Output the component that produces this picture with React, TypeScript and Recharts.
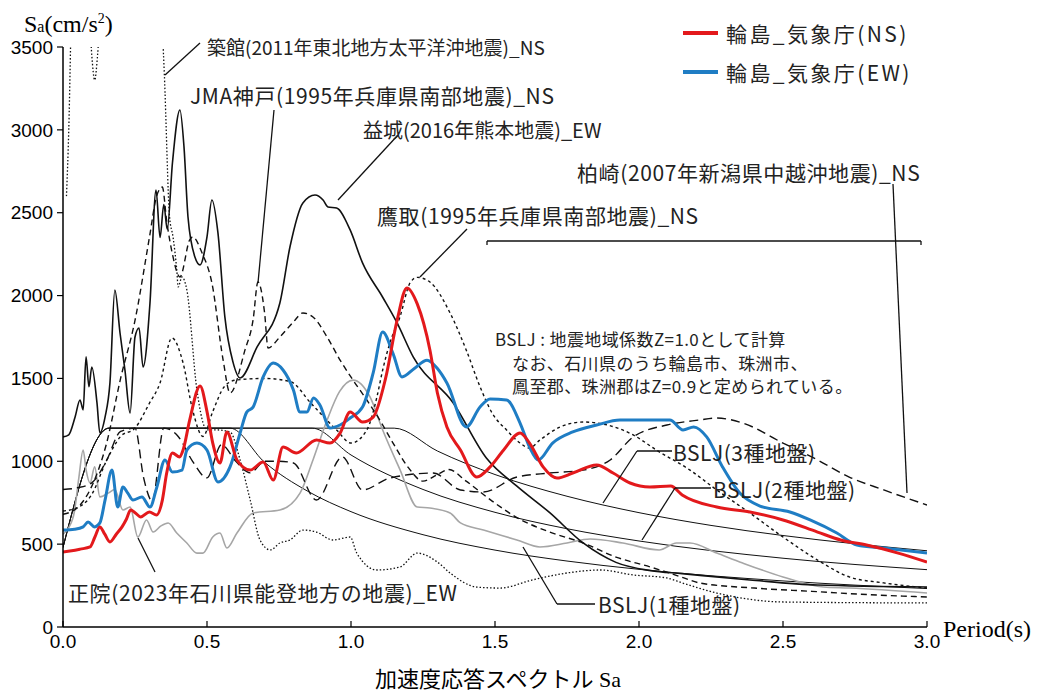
import { Line, LineChart, XAxis, YAxis } from "recharts";

type Pt = { p: number; v: number };
const toPts = (rows: number[][]): Pt[] => rows.map(([p, v]) => ({ p, v }));

// period (s) / Sa (cm/s2) pairs
const wajimaNS = [
  [0, 453], [0.03, 460], [0.06, 470], [0.094, 483], [0.11, 540], [0.128, 604], [0.145, 560],
  [0.163, 513], [0.185, 560], [0.205, 604], [0.22, 650], [0.235, 706], [0.25, 690], [0.27, 664],
  [0.3, 694], [0.325, 676], [0.345, 766], [0.36, 929], [0.38, 1050], [0.405, 1026], [0.417, 1068],
  [0.44, 1250], [0.476, 1455], [0.5, 1300], [0.52, 1110], [0.545, 990], [0.569, 1177], [0.604, 1008],
  [0.65, 947], [0.695, 996], [0.73, 887], [0.764, 1086], [0.81, 1050], [0.88, 1128], [0.927, 1110],
  [0.962, 1170], [0.997, 1297], [1.04, 1237], [1.077, 1267], [1.12, 1500], [1.16, 1850], [1.194, 2046],
  [1.23, 1950], [1.274, 1672], [1.3, 1412], [1.333, 1207], [1.38, 1068], [1.437, 905], [1.483, 966],
  [1.53, 1068], [1.587, 1171], [1.62, 1110], [1.667, 966], [1.715, 899], [1.77, 929], [1.853, 978],
  [1.91, 929], [1.969, 869], [2.038, 845], [2.11, 851], [2.15, 797], [2.27, 724], [2.385, 694],
  [2.5, 646], [2.62, 573], [2.7, 525], [2.79, 495], [2.9, 446], [3.0, 392],
];

const wajimaEW = [
  [0, 585], [0.04, 590], [0.07, 604], [0.087, 634], [0.11, 604], [0.128, 628], [0.146, 766],
  [0.17, 947], [0.19, 724], [0.208, 845], [0.225, 808], [0.243, 766], [0.274, 785], [0.302, 724],
  [0.326, 845], [0.354, 1008], [0.38, 935], [0.413, 947], [0.43, 1068], [0.465, 1110], [0.5, 1068],
  [0.538, 875], [0.58, 966], [0.615, 1171], [0.638, 1297], [0.66, 1327], [0.695, 1509], [0.73, 1593],
  [0.764, 1551], [0.8, 1430], [0.823, 1297], [0.847, 1297], [0.87, 1382], [0.892, 1340], [0.927, 1201],
  [0.962, 1219], [0.997, 1261], [1.04, 1327], [1.077, 1533], [1.11, 1780], [1.146, 1650], [1.177, 1509],
  [1.22, 1560], [1.264, 1610], [1.3, 1560], [1.333, 1473], [1.4, 1207], [1.448, 1328], [1.483, 1376],
  [1.54, 1370], [1.587, 1231], [1.62, 1086], [1.65, 1008], [1.7, 1110], [1.77, 1177], [1.853, 1219],
  [1.934, 1249], [2.03, 1249], [2.107, 1249], [2.153, 1189], [2.19, 1207], [2.235, 1147], [2.29, 966],
  [2.35, 808], [2.42, 730], [2.524, 694], [2.594, 646], [2.687, 567], [2.757, 495], [2.85, 477],
  [3.0, 446],
];

const mashikiEW = [
  [0, 1147], [0.02, 1160], [0.042, 1267], [0.059, 1370], [0.07, 1310], [0.08, 1630], [0.09, 1450],
  [0.1, 1569], [0.118, 1352], [0.128, 1171], [0.146, 1267], [0.163, 1473], [0.18, 2034], [0.198, 1774],
  [0.215, 1551], [0.233, 1291], [0.25, 1750], [0.264, 1804], [0.278, 1569], [0.302, 1955], [0.323, 2637],
  [0.337, 2350], [0.35, 2550], [0.362, 2400], [0.38, 2800], [0.406, 3120], [0.42, 2900], [0.434, 2474],
  [0.458, 2233], [0.476, 2185], [0.5, 2354], [0.517, 2577], [0.538, 2378], [0.562, 1871], [0.59, 1600],
  [0.615, 1503], [0.674, 1690], [0.753, 1955], [0.788, 2293], [0.833, 2559], [0.875, 2607], [0.903, 2577],
  [0.92, 2535], [0.95, 2528], [0.997, 2396], [1.04, 2197], [1.11, 1990], [1.16, 1835], [1.216, 1630],
  [1.355, 1352], [1.47, 1020], [1.576, 850], [1.69, 690], [1.806, 507], [1.92, 390], [2.04, 340],
  [2.15, 322], [2.385, 284], [2.62, 253], [3.0, 241],
];

const takatoriNS = [
  [0, 700], [0.05, 720], [0.1, 800], [0.15, 1000], [0.2, 1150], [0.25, 1200], [0.3, 1350],
  [0.337, 1473], [0.378, 1744], [0.417, 1593], [0.45, 1310], [0.486, 1150], [0.52, 1300], [0.56, 1450],
  [0.6, 1490], [0.7, 1500], [0.79, 1480], [0.86, 1352], [0.95, 1189], [1.0, 1110], [1.055, 1189],
  [1.09, 1388], [1.11, 1551], [1.135, 1714], [1.17, 1871], [1.205, 2076], [1.23, 2110], [1.274, 2082],
  [1.344, 1895], [1.4, 1672], [1.448, 1450], [1.49, 1291], [1.54, 1189], [1.587, 1110], [1.62, 1080],
  [1.656, 1128], [1.726, 1207], [1.806, 1237], [1.89, 1219], [1.98, 1159], [2.06, 1068], [2.177, 947],
  [2.27, 827], [2.385, 688], [2.5, 543], [2.62, 404], [2.73, 302], [2.85, 266], [3.0, 235],
];

const jmaKobeNS = [
  [0, 680], [0.05, 720], [0.1, 850], [0.15, 1100], [0.2, 1500], [0.25, 1850], [0.3, 2350],
  [0.325, 2600], [0.345, 2655], [0.36, 2450], [0.38, 2250], [0.406, 2112], [0.44, 2336], [0.45, 2354],
  [0.483, 2257], [0.517, 2076], [0.556, 1611], [0.58, 1412], [0.632, 1672], [0.66, 1853], [0.677, 2082],
  [0.7, 1895], [0.712, 1684], [0.753, 1750], [0.8, 1841], [0.833, 1895], [0.868, 1871], [0.917, 1750],
  [0.962, 1611], [1.007, 1490], [1.055, 1370], [1.1, 1249], [1.146, 1110], [1.2, 960], [1.25, 880],
  [1.3, 920], [1.34, 950], [1.4, 880], [1.49, 760], [1.576, 660], [1.69, 573], [1.806, 507],
  [1.92, 422], [2.04, 362], [2.15, 300], [2.21, 266], [2.4, 235], [2.6, 215], [2.8, 195], [3.0, 181],
];

const kashiwazakiNS = [
  [0, 830], [0.05, 840], [0.1, 870], [0.15, 1000], [0.2, 1180], [0.25, 1200], [0.28, 900],
  [0.31, 760], [0.35, 1200], [0.4, 1150], [0.45, 1000], [0.5, 900], [0.55, 1100], [0.6, 1000],
  [0.65, 930], [0.7, 1000], [0.75, 1000], [0.8, 990], [0.88, 766], [0.97, 1026], [1.04, 827],
  [1.135, 899], [1.285, 929], [1.38, 827], [1.46, 815], [1.576, 905], [1.69, 929], [1.806, 947],
  [1.9, 1008], [1.98, 1147], [2.097, 1219], [2.21, 1249], [2.27, 1261], [2.36, 1231], [2.5, 1110],
  [2.62, 1008], [2.73, 905], [2.85, 827], [3.0, 736],
];

const tsukidateNS = [
  [0.012, 2600], [0.02, 3000], [0.03, 3800], [0.05, 4600], [0.08, 4200], [0.1, 3450], [0.11, 3300],
  [0.12, 3450], [0.15, 4500], [0.25, 5000], [0.33, 4000], [0.345, 3600], [0.352, 3330], [0.37, 2474],
  [0.382, 2354], [0.395, 2155], [0.4, 2052], [0.413, 2112], [0.43, 2034], [0.465, 1430], [0.5, 1189],
  [0.535, 1189], [0.58, 1177], [0.615, 1008], [0.65, 766], [0.684, 525], [0.72, 465], [0.753, 507],
  [0.788, 525], [0.833, 585], [0.88, 573], [0.937, 525], [0.997, 543], [1.02, 446], [1.09, 344],
  [1.17, 362], [1.23, 446], [1.3, 392], [1.344, 326], [1.437, 241], [1.517, 235], [1.63, 284],
  [1.75, 326], [1.865, 344], [1.98, 314], [2.097, 296], [2.15, 266], [2.27, 205], [2.5, 151],
  [3.0, 145],
];

const shoinEW = [
  [0, 560], [0.02, 600], [0.04, 700], [0.055, 900], [0.07, 1068], [0.08, 950], [0.094, 869],
  [0.11, 966], [0.128, 785], [0.157, 808], [0.18, 830], [0.208, 706], [0.233, 724], [0.26, 543],
  [0.29, 646], [0.313, 573], [0.34, 610], [0.365, 628], [0.395, 567], [0.43, 507], [0.465, 446],
  [0.486, 446], [0.52, 543], [0.545, 567], [0.569, 477], [0.604, 567], [0.66, 688], [0.753, 706],
  [0.823, 808], [0.868, 1008], [0.917, 1249], [0.96, 1420], [1.007, 1490], [1.066, 1388], [1.11, 1189],
  [1.17, 950], [1.23, 724], [1.274, 718], [1.344, 688], [1.38, 628], [1.46, 585], [1.576, 525],
  [1.656, 483], [1.75, 507], [1.83, 531], [1.944, 507], [2.07, 465], [2.13, 507], [2.177, 507],
  [2.27, 446], [2.36, 386], [2.5, 302], [2.64, 241], [2.73, 235], [3.0, 205],
];

const bslj1 = [
  [0, 480], [0.16, 1200], [0.58, 1200], [0.7, 994], [0.85, 819], [1.0, 696], [1.25, 557],
  [1.5, 464], [1.75, 398], [2.0, 348], [2.5, 278], [3.0, 232],
];
const bslj2 = [
  [0, 480], [0.16, 1200], [0.865, 1200], [1.0, 1038], [1.25, 830], [1.5, 692], [1.75, 593],
  [2.0, 519], [2.5, 415], [3.0, 346],
];
const bslj3 = [
  [0, 480], [0.16, 1200], [1.15, 1200], [1.3, 1062], [1.5, 920], [1.75, 789], [2.0, 690],
  [2.25, 613], [2.5, 552], [2.75, 502], [3.0, 460],
];

const xTicks = [0, 0.5, 1.0, 1.5, 2.0, 2.5, 3.0];
const yTicks = [0, 500, 1000, 1500, 2000, 2500, 3000, 3500];

const SANS = "'Noto Sans CJK JP', 'Liberation Sans', sans-serif";
const SERIF = "'Liberation Serif', 'Noto Sans CJK JP', serif";
const NUM = "'Liberation Sans', Arial, sans-serif";

const labels = [
  { text: "築館(2011年東北地方太平洋沖地震)_NS", x: 207, y: 46, size: 19, ls: 0 },
  { text: "JMA神戸(1995年兵庫県南部地震)_NS", x: 190, y: 95, size: 21, ls: 0.6 },
  { text: "益城(2016年熊本地震)_EW", x: 363, y: 130, size: 20, ls: 0 },
  { text: "柏崎(2007年新潟県中越沖地震)_NS", x: 577, y: 172, size: 21, ls: 0.6 },
  { text: "鷹取(1995年兵庫県南部地震)_NS", x: 377, y: 215, size: 21, ls: 0.6 },
  { text: "正院(2023年石川県能登地方の地震)_EW", x: 68, y: 592, size: 21, ls: 0.6 },
  { text: "BSLJ(3種地盤)", x: 673, y: 452, size: 21, ls: 0.5 },
  { text: "BSLJ(2種地盤)", x: 713, y: 489, size: 21, ls: 0.5 },
  { text: "BSLJ(1種地盤)", x: 598, y: 604, size: 21, ls: 0.5 },
  { text: "BSLJ : 地震地域係数Z=1.0として計算", x: 495, y: 338, size: 17, ls: 0.4 },
  { text: "なお、石川県のうち輪島市、珠洲市、", x: 512, y: 362, size: 17, ls: 0.4 },
  { text: "鳳至郡、珠洲郡はZ=0.9と定められている。", x: 512, y: 385, size: 17, ls: 0.4 },
  { text: "輪島_気象庁(NS)", x: 726, y: 33, size: 21, ls: 2.4 },
  { text: "輪島_気象庁(EW)", x: 726, y: 72, size: 21, ls: 2.4 },
];

// leader lines: [x1, y1, x2, y2]
const leaders = [
  [200, 43, 165, 75],
  [274, 110, 258, 283],
  [398, 135, 338, 200],
  [467, 229, 420, 277],
  [893, 184, 907, 493],
  [487, 241, 921, 241],
  [487, 241, 487, 245],
  [921, 241, 921, 245],
  [637, 451, 672, 451],
  [637, 451, 603, 503],
  [675, 488, 711, 488],
  [675, 488, 642, 540],
  [557, 604, 595, 604],
  [557, 604, 523, 547],
  [155, 572, 138, 538],
];

function XTick(props: any) {
  const { x, y, payload } = props;
  return (
    <g>
      <line x1={x} x2={x} y1={y} y2={y - 6} stroke="#000" strokeWidth={1.2} />
      <text x={x} y={y + 21} textAnchor="middle" fontFamily={NUM} fontSize={19} fill="#000">
        {Number(payload.value).toFixed(1)}
      </text>
    </g>
  );
}

export default function App() {
  const lineBase = { dataKey: "v", dot: false, activeDot: false, isAnimationActive: false } as const;
  return (
    <div style={{ position: "relative", width: 1040, height: 695, background: "#fff" }}>
      <style>{"body{margin:0}"}</style>
      <LineChart width={1040} height={695} margin={{ top: 47, right: 113, bottom: 38, left: 13 }}>
        <XAxis
          type="number"
          dataKey="p"
          domain={[0, 3]}
          ticks={xTicks}
          tickSize={0}
          tickMargin={0}
          tick={<XTick />}
          axisLine={{ stroke: "#000", strokeWidth: 1.5 }}
          height={30}
          allowDataOverflow
        />
        <YAxis
          type="number"
          domain={[0, 3500]}
          ticks={yTicks}
          width={50}
          tickSize={6}
          tickMargin={4}
          tick={{ fill: "#000", fontSize: 19, fontFamily: NUM }}
          tickLine={{ stroke: "#000", strokeWidth: 1.2 }}
          axisLine={{ stroke: "#000", strokeWidth: 1.5 }}
          allowDataOverflow
        />
        <Line {...lineBase} data={toPts(bslj1)} type="monotone" stroke="#111" strokeWidth={1} />
        <Line {...lineBase} data={toPts(bslj2)} type="monotone" stroke="#111" strokeWidth={1} />
        <Line {...lineBase} data={toPts(bslj3)} type="monotone" stroke="#111" strokeWidth={1} />
        <Line {...lineBase} data={toPts(shoinEW)} type="monotone" stroke="#a6a6a6" strokeWidth={1.6} />
        <Line {...lineBase} data={toPts(tsukidateNS)} type="monotone" stroke="#111" strokeWidth={1.3} strokeDasharray="1.5 2" />
        <Line {...lineBase} data={toPts(kashiwazakiNS)} type="monotone" stroke="#111" strokeWidth={1.4} strokeDasharray="9 5" />
        <Line {...lineBase} data={toPts(jmaKobeNS)} type="monotone" stroke="#111" strokeWidth={1.4} strokeDasharray="6 4" />
        <Line {...lineBase} data={toPts(takatoriNS)} type="monotone" stroke="#111" strokeWidth={1.4} strokeDasharray="3 3" />
        <Line {...lineBase} data={toPts(mashikiEW)} type="monotone" stroke="#111" strokeWidth={1.6} />
        <Line {...lineBase} data={toPts(wajimaEW)} type="monotone" stroke="#1f7dc4" strokeWidth={3} />
        <Line {...lineBase} data={toPts(wajimaNS)} type="monotone" stroke="#e3191c" strokeWidth={3} />
      </LineChart>

      <svg width={1040} height={695} style={{ position: "absolute", left: 0, top: 0, pointerEvents: "none" }}>
        {leaders.map(([x1, y1, x2, y2], i) => (
          <line key={i} x1={x1} y1={y1} x2={x2} y2={y2} stroke="#111" strokeWidth={1.3} />
        ))}
        <line x1={683} x2={718} y1={33} y2={33} stroke="#e3191c" strokeWidth={4} />
        <line x1={683} x2={718} y1={72} y2={72} stroke="#1f7dc4" strokeWidth={4} />
      </svg>

      {labels.map((l) => (
        <div
          key={l.text}
          style={{
            position: "absolute",
            left: l.x,
            top: l.y,
            transform: "translateY(-50%)",
            fontFamily: SANS,
            fontSize: l.size,
            letterSpacing: l.ls,
            lineHeight: 1,
            whiteSpace: "nowrap",
            color: "#222",
          }}
        >
          {l.text}
        </div>
      ))}

      <div style={{ position: "absolute", left: 24, top: 24, transform: "translateY(-50%)", fontFamily: SERIF, fontSize: 24, lineHeight: 1, whiteSpace: "nowrap" }}>
        S<span style={{ fontSize: 16 }}>a</span>(cm/s<sup style={{ fontSize: 14 }}>2</sup>)
      </div>
      <div style={{ position: "absolute", left: 943, top: 629, transform: "translateY(-50%)", fontFamily: SERIF, fontSize: 24, lineHeight: 1, whiteSpace: "nowrap" }}>
        Period(s)
      </div>
      <div style={{ position: "absolute", left: 0, width: 996, top: 680, transform: "translateY(-50%)", textAlign: "center", fontFamily: SERIF, fontSize: 22, lineHeight: 1, whiteSpace: "nowrap" }}>
        加速度応答スペクトル Sa
      </div>
    </div>
  );
}
